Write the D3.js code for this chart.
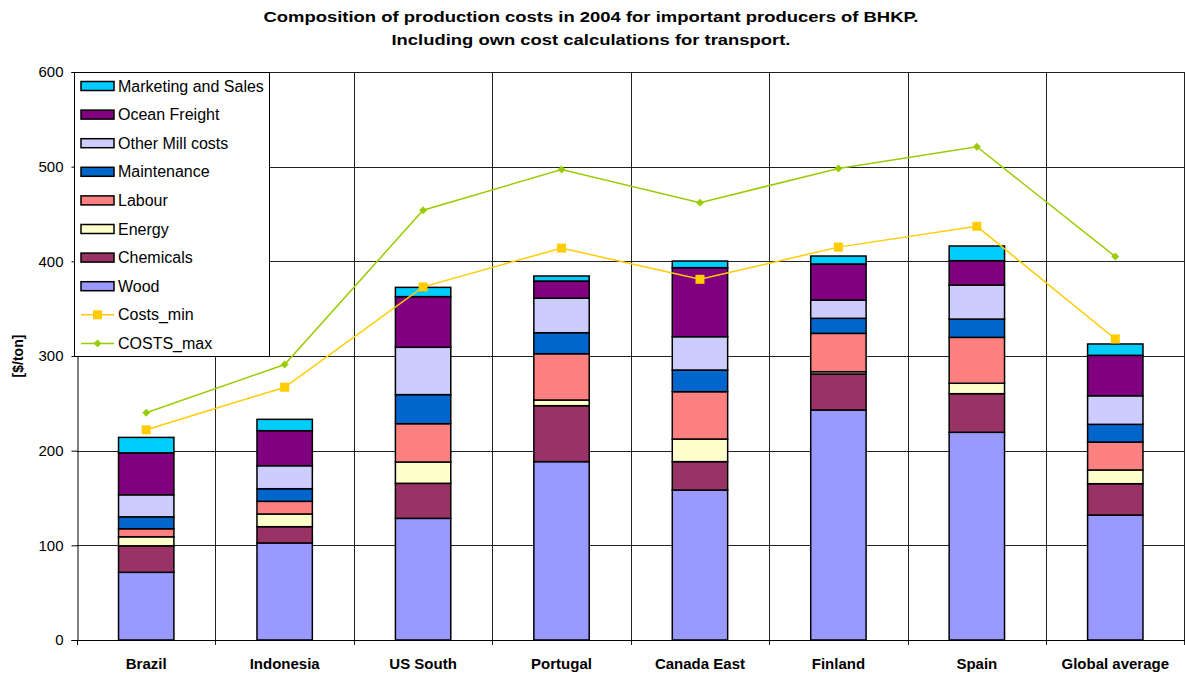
<!DOCTYPE html>
<html>
<head>
<meta charset="utf-8">
<script src="https://cdn.jsdelivr.net/npm/d3@7"></script>
<style>
  html, body { margin: 0; padding: 0; background: #fff; }
  svg { display: block; font-family: "Liberation Sans", Arial, sans-serif; }
</style>
</head>
<body>
<svg id="chart" width="1185" height="675"></svg>
<script>
// Producers of BHKP (bleached hardwood kraft pulp)
const categories = ["Brazil", "Indonesia", "US South", "Portugal", "Canada East", "Finland", "Spain", "Global average"];

// Cost components, $/ton, stacked bottom to top
const wood        = [71.5, 102.5, 128.5, 188.4, 158.4, 243.0, 219.4, 132.0];
const chemicals   = [28.0,  17.2,  37.0,  59.1,  30.0,  38.0,  40.8,  33.1];
const energy      = [ 9.5,  13.4,  22.5,   6.0,  23.9,   2.4,  11.0,  14.5];
const labour      = [ 8.5,  13.4,  40.5,  48.9,  50.0,  40.5,  48.5,  29.5];
const maintenance = [12.6,  13.3,  30.7,  22.2,  22.9,  15.9,  19.3,  18.7];
const otherMill   = [23.3,  24.3,  50.0,  36.4,  35.2,  19.3,  36.0,  30.2];
const oceanFreight= [44.3,  37.0,  53.5,  18.2,  72.9,  38.1,  25.7,  42.7];
const marketing   = [16.3,  12.0,   9.8,   5.3,   7.0,   8.4,  15.5,  12.0];

// Total cost range
const costsMin = [222, 267, 373, 414, 381, 415, 437, 318];
const costsMax = [240, 291, 454, 497, 462, 498, 521, 405];

const yTicks = [0, 100, 200, 300, 400, 500, 600];

const seriesDefs = [
  { key: "Wood",               values: wood,         color: "#9999FF" },
  { key: "Chemicals",          values: chemicals,    color: "#993366" },
  { key: "Energy",             values: energy,       color: "#FFFFCC" },
  { key: "Labour",             values: labour,       color: "#FF8080" },
  { key: "Maintenance",        values: maintenance,  color: "#0066CC" },
  { key: "Other Mill costs",   values: otherMill,    color: "#CCCCFF" },
  { key: "Ocean Freight",      values: oceanFreight, color: "#800080" },
  { key: "Marketing and Sales",values: marketing,    color: "#00CCFF" }
];

const rows = categories.map((c, i) => {
  const r = { category: c };
  seriesDefs.forEach(s => { r[s.key] = s.values[i]; });
  return r;
});

const svg = d3.select("#chart");
const margin = { left: 77, right: 0, top: 72, bottom: 35 };
const W = 1185, H = 675;
const plotBottom = 640;

const x = d3.scaleBand().domain(categories).range([margin.left, W - 0.5]).paddingInner(0.6).paddingOuter(0.3);
const xOuter = d3.scaleBand().domain(categories).range([margin.left, W - 0.5]).padding(0);
const y = d3.scaleLinear().domain([0, 600]).range([plotBottom, margin.top]);

// Title
svg.append("text").attr("x", 591).attr("y", 22).attr("text-anchor", "middle")
  .attr("font-size", 15.5).attr("font-weight", "bold")
  .attr("textLength", 655).attr("lengthAdjust", "spacingAndGlyphs")
  .text("Composition of production costs in 2004 for important producers of BHKP.");
svg.append("text").attr("x", 591).attr("y", 44.5).attr("text-anchor", "middle")
  .attr("font-size", 15.5).attr("font-weight", "bold")
  .attr("textLength", 399).attr("lengthAdjust", "spacingAndGlyphs")
  .text("Including own cost calculations for transport.");

// Horizontal gridlines
svg.append("g").selectAll("line").data(yTicks.filter(d => d > 0)).join("line")
  .attr("x1", margin.left).attr("x2", W)
  .attr("y1", d => Math.round(y(d)) + 0.5).attr("y2", d => Math.round(y(d)) + 0.5)
  .attr("stroke", "#222").attr("stroke-width", 1);

// Vertical gridlines at category boundaries
svg.append("g").selectAll("line").data(categories.slice(1).concat(["__end"])).join("line")
  .attr("x1", d => d === "__end" ? W - 0.5 : Math.round(xOuter(d)) + 0.5)
  .attr("x2", d => d === "__end" ? W - 0.5 : Math.round(xOuter(d)) + 0.5)
  .attr("y1", margin.top).attr("y2", plotBottom + 5)
  .attr("stroke", "#222").attr("stroke-width", 1);

// Stacked bars
const stack = d3.stack().keys(seriesDefs.map(s => s.key));
const stacked = stack(rows);
const colorOf = Object.fromEntries(seriesDefs.map(s => [s.key, s.color]));

svg.append("g").selectAll("g").data(stacked).join("g")
  .attr("fill", d => colorOf[d.key])
  .selectAll("rect").data(d => d).join("rect")
  .attr("x", d => x(d.data.category))
  .attr("width", x.bandwidth())
  .attr("y", d => y(d[1]))
  .attr("height", d => y(d[0]) - y(d[1]))
  .attr("stroke", "#000").attr("stroke-width", 1.5);

// Axes
const yAxis = d3.axisLeft(y).tickValues(yTicks).tickSize(6).tickPadding(8);
const gy = svg.append("g").attr("transform", `translate(${margin.left + 0.5},0)`).call(yAxis);
gy.select(".domain").attr("stroke", "#000");
gy.selectAll(".tick line").attr("stroke", "#000");
gy.selectAll(".tick text").attr("font-size", 15).attr("fill", "#000").attr("font-family", "Liberation Sans, Arial, sans-serif");

svg.append("line").attr("x1", margin.left).attr("x2", W).attr("y1", plotBottom + 0.5).attr("y2", plotBottom + 0.5)
  .attr("stroke", "#000").attr("stroke-width", 1);
svg.append("line").attr("x1", margin.left + 0.5).attr("x2", margin.left + 0.5).attr("y1", plotBottom).attr("y2", plotBottom + 5)
  .attr("stroke", "#000");

svg.append("g").selectAll("text").data(categories).join("text")
  .attr("x", d => xOuter(d) + xOuter.bandwidth() / 2)
  .attr("y", 669).attr("text-anchor", "middle")
  .attr("font-size", 15).attr("font-weight", "bold")
  .text(d => d);

// Y-axis title
svg.append("text").attr("transform", "translate(23,356) rotate(-90)")
  .attr("text-anchor", "middle").attr("font-size", 14).attr("font-weight", "bold")
  .text("[$/ton]");

// Cost range lines
const cx = d => xOuter(d) + xOuter.bandwidth() / 2;
const lineGen = d3.line().x(d => cx(d.c)).y(d => y(d.v));

const maxPts = categories.map((c, i) => ({ c, v: costsMax[i] }));
const minPts = categories.map((c, i) => ({ c, v: costsMin[i] }));

svg.append("path").datum(maxPts).attr("d", lineGen).attr("fill", "none")
  .attr("stroke", "#99CC00").attr("stroke-width", 1.5);
svg.append("g").selectAll("path").data(maxPts).join("path")
  .attr("d", d3.symbol(d3.symbolDiamond2, 40))
  .attr("transform", d => `translate(${cx(d.c)},${y(d.v)})`)
  .attr("fill", "#99CC00");

svg.append("path").datum(minPts).attr("d", lineGen).attr("fill", "none")
  .attr("stroke", "#FFCC00").attr("stroke-width", 1.5);
svg.append("g").selectAll("rect").data(minPts).join("rect")
  .attr("x", d => cx(d.c) - 4.5).attr("y", d => y(d.v) - 4.5)
  .attr("width", 9).attr("height", 9).attr("fill", "#FFCC00");

// Legend
const legend = svg.append("g");
legend.append("rect").attr("x", 74.5).attr("y", 72.5).attr("width", 195).attr("height", 284)
  .attr("fill", "#fff").attr("stroke", "#000").attr("stroke-width", 1);

const legendItems = seriesDefs.slice().reverse().map(s => ({ label: s.key, color: s.color, type: "bar" }))
  .concat([{ label: "Costs_min", color: "#FFCC00", type: "min" }, { label: "COSTS_max", color: "#99CC00", type: "max" }]);

const li = legend.selectAll("g.item").data(legendItems).join("g").attr("class", "item")
  .attr("transform", (d, i) => `translate(0,${86 + i * 28.6})`);

li.filter(d => d.type === "bar").append("rect")
  .attr("x", 81).attr("y", -4.5).attr("width", 33).attr("height", 9)
  .attr("fill", d => d.color).attr("stroke", "#000").attr("stroke-width", 1.5);
li.filter(d => d.type !== "bar").append("line")
  .attr("x1", 81).attr("x2", 114).attr("y1", 0).attr("y2", 0)
  .attr("stroke", d => d.color).attr("stroke-width", 1.5);
li.filter(d => d.type === "min").append("rect")
  .attr("x", 93).attr("y", -4.5).attr("width", 9).attr("height", 9).attr("fill", d => d.color);
li.filter(d => d.type === "max").append("path")
  .attr("d", d3.symbol(d3.symbolDiamond2, 40)).attr("transform", "translate(97.5,0)")
  .attr("fill", d => d.color);
li.append("text").attr("x", 118).attr("y", 5.5).attr("font-size", 16).text(d => d.label);
</script>
</body>
</html>
